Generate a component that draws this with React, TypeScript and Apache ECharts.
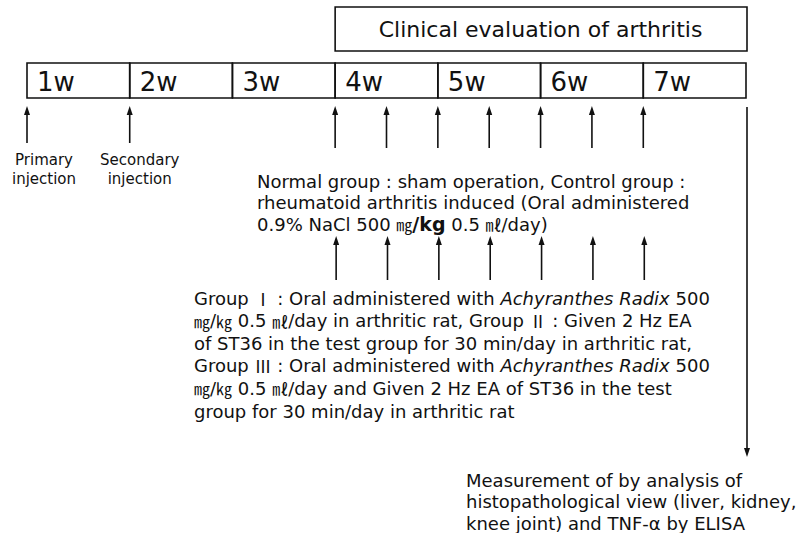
import React, { useEffect, useRef } from 'react';
import * as echarts from 'echarts';

// ---- Data (content of the timeline diagram) ----
const weekLabels = ['1w', '2w', '3w', '4w', '5w', '6w', '7w'];
const injectionWeeks = [0, 1];
const injectionLabels = [
  ['Primary', 'injection'],
  ['Secondary', 'injection'],
];
const evaluationTitle = 'Clinical evaluation of arthritis';
const evaluationSpan = [3, 7];
const treatmentWeeks = [3, 3.5, 4, 4.5, 5, 5.5, 6];
const measurementWeeks = [7];

const normalLines = [
  'Normal group : sham operation, Control group :',
  'rheumatoid arthritis induced (Oral administered',
  '0.9% NaCl 500 {u|㎎}{b|/kg} 0.5 {u|㎖}/day)',
];
const groupLines = [
  'Group {r|Ⅰ} : Oral administered with {i|Achyranthes Radix} 500',
  '{u|㎎}/{u|㎏} 0.5 {u|㎖}/day in arthritic rat, Group {r|Ⅱ} : Given 2 Hz EA',
  'of ST36 in the test group for 30 min/day in arthritic rat,',
  'Group {r|Ⅲ} : Oral administered with {i|Achyranthes Radix} 500',
  '{u|㎎}/{u|㎏} 0.5 {u|㎖}/day and Given 2 Hz EA of ST36 in the test',
  'group for 30 min/day in arthritic rat',
];
const measurementLines = [
  'Measurement of by analysis of',
  'histopathological view (liver, kidney,',
  'knee joint) and TNF-α by ELISA',
];

// ---- Styling / layout ----
const FONT = '"DejaVu Sans", "Noto Sans CJK KR", sans-serif';
const CJK = '"Noto Sans CJK KR", "DejaVu Sans", sans-serif';
const INK = '#111';
const BAR_TOP = 63;
const BAR_BOTTOM = 98;
const TITLE_TOP = 7;
const TITLE_BOTTOM = 51;

const rich = {
  i: { fontStyle: 'italic', fontSize: 18, fontFamily: FONT, fill: INK },
  r: { fontSize: 17, fontFamily: CJK, fill: INK },
  u: { fontSize: 16, fontFamily: CJK, fill: INK },
  b: { fontSize: 19, fontWeight: 'bold', fontFamily: FONT, fill: INK },
};

function arrow(x: number, tip: number, tail: number, up: boolean) {
  const d = up ? 1 : -1;
  return [
    {
      type: 'line',
      shape: { x1: x, y1: tip + d * 4, x2: x, y2: tail },
      style: { stroke: INK, lineWidth: 1.6 },
    },
    {
      type: 'polygon',
      shape: { points: [[x, tip], [x - 3, tip + d * 9], [x + 3, tip + d * 9]] },
      style: { fill: INK },
    },
  ];
}

function textBlock(lines: string[], x: number, y0: number, step: number) {
  return lines.map((t, i) => ({
    type: 'text',
    x,
    y: y0 + i * step,
    style: {
      text: t,
      rich,
      fontSize: 18,
      fontFamily: FONT,
      fill: INK,
      align: 'left',
      verticalAlign: 'middle',
    },
  }));
}

const LABEL_DX = [17, 10];

const option: any = {
  animation: false,
  backgroundColor: '#ffffff',
  grid: { left: 27, right: 56, top: 0, bottom: 0 },
  xAxis: { type: 'value', min: 0, max: 7, show: false },
  yAxis: { type: 'value', min: 0, max: 533, inverse: true, show: false },
  series: [
    {
      type: 'custom',
      name: 'weeks',
      data: weekLabels.map((_, i) => [i, 0]),
      renderItem: (params: any, api: any) => {
        const i = api.value(0);
        const p0 = api.coord([i, BAR_TOP]);
        const p1 = api.coord([i + 1, BAR_BOTTOM]);
        return {
          type: 'group',
          children: [
            {
              type: 'rect',
              shape: { x: p0[0], y: p0[1], width: p1[0] - p0[0], height: p1[1] - p0[1] },
              style: { fill: 'none', stroke: INK, lineWidth: 1.6 },
            },
            {
              type: 'text',
              x: p0[0] + 10,
              y: (p0[1] + p1[1]) / 2 + 1,
              style: {
                text: weekLabels[i],
                fontSize: 26,
                fontFamily: FONT,
                fill: INK,
                align: 'left',
                verticalAlign: 'middle',
              },
            },
          ],
        };
      },
    },
    {
      type: 'custom',
      name: 'evaluation',
      data: [[evaluationSpan[0], evaluationSpan[1]]],
      renderItem: (params: any, api: any) => {
        const p0 = api.coord([api.value(0), TITLE_TOP]);
        const p1 = api.coord([api.value(1), TITLE_BOTTOM]);
        return {
          type: 'group',
          children: [
            {
              type: 'rect',
              shape: { x: p0[0], y: p0[1], width: p1[0] - p0[0] + 1, height: p1[1] - p0[1] },
              style: { fill: 'none', stroke: INK, lineWidth: 1.6 },
            },
            {
              type: 'text',
              x: (p0[0] + p1[0]) / 2,
              y: (p0[1] + p1[1]) / 2,
              style: {
                text: evaluationTitle,
                fontSize: 22,
                fontFamily: FONT,
                fill: INK,
                align: 'center',
                verticalAlign: 'middle',
              },
            },
          ],
        };
      },
    },
    {
      type: 'custom',
      name: 'injections',
      data: injectionWeeks.map((w) => [w, 0]),
      renderItem: (params: any, api: any) => {
        const idx = params.dataIndex;
        const tip = api.coord([api.value(0), 106]);
        const tail = api.coord([api.value(0), 143]);
        const x = tip[0];
        return {
          type: 'group',
          children: [
            ...arrow(x, tip[1], tail[1], true),
            ...injectionLabels[idx].map((t, k) => ({
              type: 'text',
              x: x + LABEL_DX[idx],
              y: 160 + k * 19,
              style: {
                text: t,
                fontSize: 15,
                fontFamily: FONT,
                fill: INK,
                align: 'center',
                verticalAlign: 'middle',
              },
            })),
          ],
        };
      },
    },
    {
      type: 'custom',
      name: 'treatment-top',
      data: treatmentWeeks.map((w) => [w, 0]),
      renderItem: (params: any, api: any) => {
        const tip = api.coord([api.value(0), 106]);
        const tail = api.coord([api.value(0), 148]);
        return { type: 'group', children: arrow(tip[0], tip[1], tail[1], true) };
      },
    },
    {
      type: 'custom',
      name: 'treatment-bottom',
      data: treatmentWeeks.map((w) => [w, 0]),
      renderItem: (params: any, api: any) => {
        const tip = api.coord([api.value(0), 236]);
        const tail = api.coord([api.value(0), 280]);
        return { type: 'group', children: arrow(tip[0] + 1, tip[1], tail[1], true) };
      },
    },
    {
      type: 'custom',
      name: 'measurement',
      data: measurementWeeks.map((w) => [w, 0]),
      renderItem: (params: any, api: any) => {
        const tail = api.coord([api.value(0), 107]);
        const tip = api.coord([api.value(0), 457]);
        return { type: 'group', children: arrow(tip[0] + 1, tip[1], tail[1], false) };
      },
    },
  ],
  graphic: [
    ...textBlock(normalLines, 257, 181, 21.5),
    ...textBlock(groupLines, 194, 298, 22.6),
    ...textBlock(measurementLines, 466, 480, 21.5),
  ],
};

export default function App() {
  const ref = useRef<HTMLDivElement>(null);
  useEffect(() => {
    const chart = echarts.init(ref.current as HTMLDivElement, null, { renderer: 'svg' });
    chart.setOption(option);
    return () => chart.dispose();
  }, []);
  return (
    <div
      ref={ref}
      style={{ position: 'absolute', left: 0, top: 0, width: 802, height: 533, background: '#fff' }}
    />
  );
}
